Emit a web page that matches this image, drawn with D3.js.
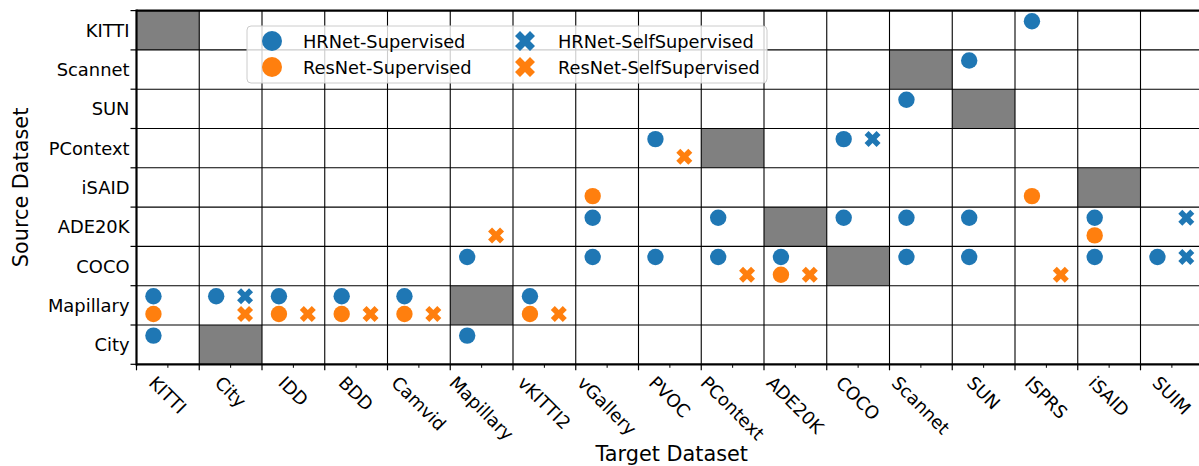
<!DOCTYPE html>
<html>
<head>
<meta charset="utf-8">
<script src="https://cdn.jsdelivr.net/npm/d3@7/dist/d3.min.js"></script>
<style>
  body { margin: 0; background: #fff; }
  text { font-family: "DejaVu Sans", sans-serif; fill: #000; }
</style>
</head>
<body>
<svg id="chart" width="1199" height="466"></svg>
<script>
// ---- data ----
const targets = ["KITTI","City","IDD","BDD","Camvid","Mapillary","vKITTI2","vGallery","PVOC","PContext","ADE20K","COCO","Scannet","SUN","ISPRS","iSAID","SUIM"];
const sources = ["KITTI","Scannet","SUN","PContext","iSAID","ADE20K","COCO","Mapillary","City"];

// [source, target] pairs for each series
const hrnetSupervised = [
  ["KITTI","ISPRS"],
  ["Scannet","SUN"],
  ["SUN","Scannet"],
  ["PContext","PVOC"],["PContext","COCO"],
  ["ADE20K","vGallery"],["ADE20K","PContext"],["ADE20K","COCO"],["ADE20K","Scannet"],["ADE20K","SUN"],["ADE20K","iSAID"],
  ["COCO","Mapillary"],["COCO","vGallery"],["COCO","PVOC"],["COCO","PContext"],["COCO","ADE20K"],["COCO","Scannet"],["COCO","SUN"],["COCO","iSAID"],["COCO","SUIM"],
  ["Mapillary","KITTI"],["Mapillary","City"],["Mapillary","IDD"],["Mapillary","BDD"],["Mapillary","Camvid"],["Mapillary","vKITTI2"],
  ["City","KITTI"],["City","Mapillary"]
];
const resnetSupervised = [
  ["iSAID","vGallery"],["iSAID","ISPRS"],
  ["ADE20K","iSAID"],
  ["COCO","ADE20K"],
  ["Mapillary","KITTI"],["Mapillary","IDD"],["Mapillary","BDD"],["Mapillary","Camvid"],["Mapillary","vKITTI2"]
];
const hrnetSelfSupervised = [
  ["PContext","COCO"],
  ["ADE20K","SUIM"],
  ["COCO","SUIM"],
  ["Mapillary","City"]
];
const resnetSelfSupervised = [
  ["PContext","PVOC"],
  ["ADE20K","Mapillary"],
  ["COCO","PContext"],["COCO","ADE20K"],["COCO","ISPRS"],
  ["Mapillary","City"],["Mapillary","IDD"],["Mapillary","BDD"],["Mapillary","Camvid"],["Mapillary","vKITTI2"]
];
// diagonal (same dataset) cells
const sameCells = sources.map(s => [s, s]);

const seriesNames = ["HRNet-Supervised","ResNet-Supervised","HRNet-SelfSupervised","ResNet-SelfSupervised"];

// ---- layout ----
const svg = d3.select("#chart");
const L = 136.5, T = 10.6, R = 1203.25, B = 364.3;

const x = d3.scaleLinear().domain([0, targets.length]).range([L, R]);
const y = d3.scaleLinear().domain([0, sources.length]).range([T, B]);
const colIdx = t => targets.indexOf(t);
const rowIdx = s => sources.indexOf(s);

const blue = "#1f77b4", orange = "#ff7f0e";
const series = [
  {name: seriesNames[0], data: hrnetSupervised, color: blue, shape: "circle", dx: 0.27, dy: 0.27},
  {name: seriesNames[1], data: resnetSupervised, color: orange, shape: "circle", dx: 0.27, dy: 0.72},
  {name: seriesNames[2], data: hrnetSelfSupervised, color: blue, shape: "x", dx: 0.73, dy: 0.27},
  {name: seriesNames[3], data: resnetSelfSupervised, color: orange, shape: "x", dx: 0.73, dy: 0.72}
];

// matplotlib filled 'X' marker path
function xPath(size) {
  const v = [[-1,-2],[0,-1],[1,-2],[2,-1],[1,0],[2,1],[1,2],[0,1],[-1,2],[-2,1],[-1,0],[-2,-1]];
  const k = size / 4;
  return "M" + v.map(p => (p[0]*k) + "," + (p[1]*k)).join("L") + "Z";
}

// gray same-dataset cells
svg.append("g").selectAll("rect").data(sameCells).join("rect")
  .attr("x", d => x(colIdx(d[1])))
  .attr("y", d => y(rowIdx(d[0])))
  .attr("width", x(1) - x(0))
  .attr("height", y(1) - y(0))
  .attr("fill", "#808080");

// grid
const grid = svg.append("g").attr("stroke", "#000").attr("stroke-width", 1.1);
d3.range(1, targets.length).forEach(i => {
  grid.append("line").attr("x1", x(i)).attr("x2", x(i)).attr("y1", T).attr("y2", B);
});
d3.range(1, sources.length).forEach(i => {
  grid.append("line").attr("x1", L).attr("x2", R).attr("y1", y(i)).attr("y2", y(i));
});

// markers
series.forEach(s => {
  const g = svg.append("g");
  s.data.forEach(d => {
    const cx = x(colIdx(d[1]) + s.dx), cy = y(rowIdx(d[0]) + s.dy);
    if (s.shape === "circle") {
      g.append("circle").attr("cx", cx).attr("cy", cy).attr("r", 8.2).attr("fill", s.color);
    } else {
      g.append("path").attr("d", xPath(16)).attr("transform", `translate(${cx},${cy})`).attr("fill", s.color);
    }
  });
});

// spines
const sp = svg.append("g").attr("stroke", "#000").attr("stroke-width", 2.2);
sp.append("line").attr("x1", L).attr("x2", L).attr("y1", T - 1.1).attr("y2", B + 1.1);
sp.append("line").attr("x1", L).attr("x2", R).attr("y1", T).attr("y2", T);
sp.append("line").attr("x1", L).attr("x2", R).attr("y1", B).attr("y2", B);

// x axis ticks
const xt = svg.append("g").attr("stroke", "#000");
d3.range(0, targets.length + 1).forEach(i => {
  xt.append("line").attr("x1", x(i)).attr("x2", x(i)).attr("y1", B).attr("y2", B + 6).attr("stroke-width", 1.2);
});
targets.forEach((t, i) => {
  xt.append("line").attr("x1", x(i + 0.5)).attr("x2", x(i + 0.5)).attr("y1", B).attr("y2", B + 3.5).attr("stroke-width", 1);
});
// y axis ticks
d3.range(0, sources.length + 1).forEach(i => {
  xt.append("line").attr("x1", L - 6).attr("x2", L).attr("y1", y(i)).attr("y2", y(i)).attr("stroke-width", 1.2);
});

// x tick labels rotated 45deg, bbox centered at the tick
const tickFont = 17.9;
const xl = svg.append("g");
targets.forEach((t, i) => {
  const txt = xl.append("text").text(t).attr("font-size", tickFont)
    .attr("text-anchor", "middle").attr("dominant-baseline", "central");
  const w = txt.node().getComputedTextLength();
  const h = tickFont * 0.95;
  const half = (w + h) / (2 * Math.SQRT2);
  const cx = x(i + 0.5), cy = B + 9 + half;
  txt.attr("transform", `translate(${cx},${cy}) rotate(45)`);
});

// y tick labels
svg.append("g").selectAll("text").data(sources).join("text")
  .attr("x", L - 7)
  .attr("y", (d, i) => y(i + 0.5))
  .attr("text-anchor", "end")
  .attr("dominant-baseline", "central")
  .attr("font-size", tickFont)
  .text(d => d);

// axis titles
svg.append("text").attr("x", (L + 1199) / 2 + 4).attr("y", 461)
  .attr("text-anchor", "middle").attr("font-size", 20.8).text("Target Dataset");
svg.append("text").attr("transform", `translate(28,${(T + B) / 2}) rotate(-90)`)
  .attr("text-anchor", "middle").attr("font-size", 20.8).text("Source Dataset");

// legend
const lg = svg.append("g");
lg.append("rect").attr("x", 247).attr("y", 26).attr("width", 520).attr("height", 57)
  .attr("rx", 4).attr("fill", "rgba(255,255,255,0.8)").attr("stroke", "#cccccc").attr("stroke-width", 1);
const legPos = [[272, 41],[272, 67],[525, 41],[525, 67]];
series.forEach((s, i) => {
  const [lx, ly] = legPos[i];
  if (s.shape === "circle") {
    lg.append("circle").attr("cx", lx).attr("cy", ly).attr("r", 10).attr("fill", s.color);
  } else {
    lg.append("path").attr("d", xPath(20)).attr("transform", `translate(${lx},${ly})`).attr("fill", s.color);
  }
  lg.append("text").attr("x", lx + (s.shape === "circle" ? 31 : 33)).attr("y", ly)
    .attr("dominant-baseline", "central").attr("font-size", 17.8).text(s.name);
});
</script>
</body>
</html>
